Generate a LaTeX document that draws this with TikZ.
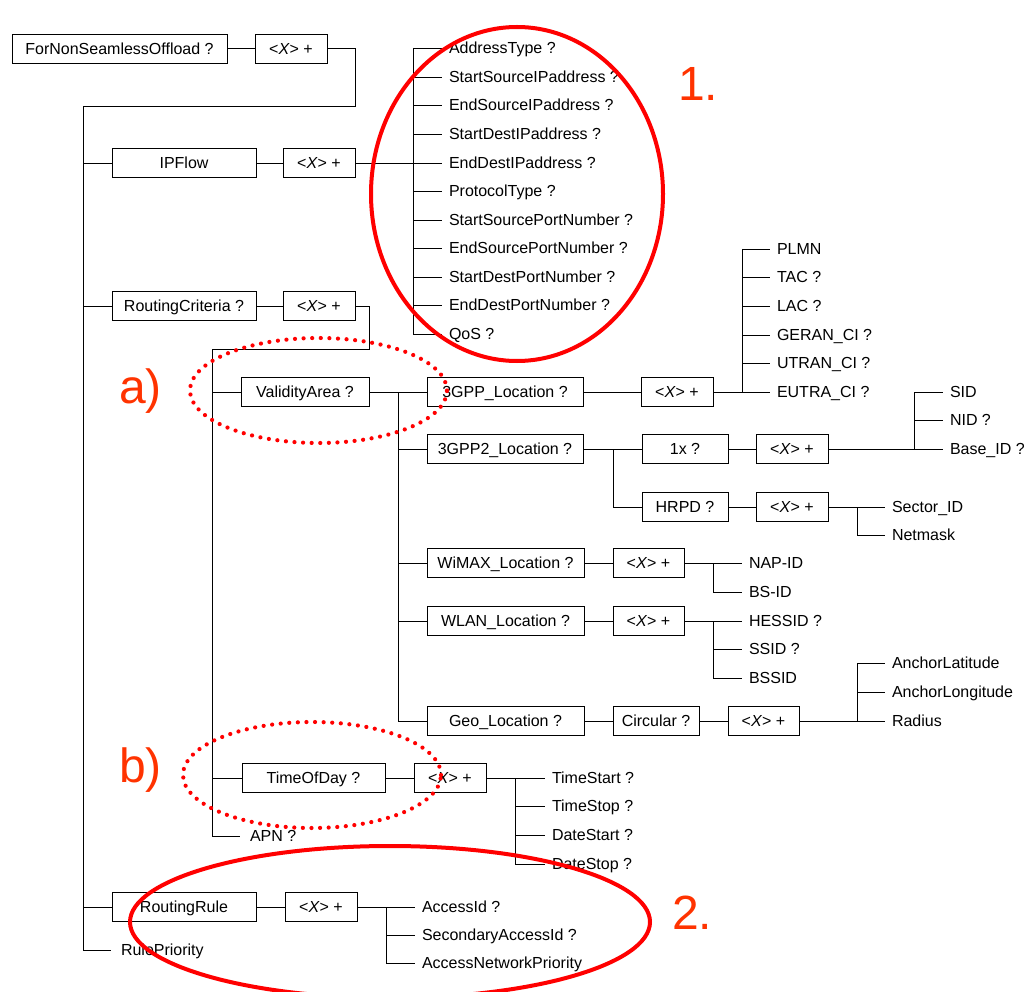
\documentclass[tikz,border=0pt]{standalone}
\usepackage{fontspec}
\setmainfont{Liberation Sans}
\newcommand\dfont{\fontsize{16}{19}\selectfont}
\newcommand\bigfont{\fontsize{48}{56}\selectfont}
\newcommand\rep{<\textit{X}> +}
\definecolor{markred}{RGB}{255,0,0}
\definecolor{labelred}{RGB}{255,51,0}
\begin{document}
\begin{tikzpicture}[x=1pt,y=-1pt,
  box/.style={draw, line width=0.8pt, inner sep=0pt, minimum height=29pt,
    text height=11.4pt, text depth=0pt, font=\dfont},
  leaf/.style={anchor=west, inner sep=0pt, outer xsep=7pt, outer ysep=0pt,
    text height=11.4pt, text depth=0pt, font=\dfont},
  wideleaf/.style={leaf, outer xsep=10pt},
  wire/.style={line width=0.8pt},
  ring/.style={draw=markred, line width=4pt},
  dotring/.style={draw=markred, line width=4.2pt, line cap=round, dash pattern=on 0pt off 8.6pt},
  tag/.style={anchor=base west, inner sep=0pt, font=\bigfont, text=labelred}]

\useasboundingbox (0,0) rectangle (1028,992);
\fill[white] (0,0) rectangle (1028,992);

% ---- boxes ----
\node[box, minimum width=215pt] (fnso) at (119.5,48.5) {ForNonSeamlessOffload ?};
\node[box, minimum width=72pt] (x0) at (291,48.5) {\rep};
\node[box, minimum width=144pt] (ipflow) at (184,163) {IPFlow};
\node[box, minimum width=72pt] (x1) at (319,163) {\rep};
\node[box, minimum width=144pt] (rc) at (184,306) {RoutingCriteria ?};
\node[box, minimum width=72pt] (x2) at (319,306) {\rep};
\node[box, minimum width=128pt] (va) at (305,392) {ValidityArea ?};
\node[box, minimum width=156pt] (g3) at (505,392) {3GPP\_Location ?};
\node[box, minimum width=72pt] (x3) at (677,392) {\rep};
\node[box, minimum width=156pt] (g32) at (505,449) {3GPP2\_Location ?};
\node[box, minimum width=86pt] (onex) at (685,449) {1x ?};
\node[box, minimum width=72pt] (x4) at (792,449) {\rep};
\node[box, minimum width=86pt] (hrpd) at (685,507) {HRPD ?};
\node[box, minimum width=72pt] (x5) at (792,507) {\rep};
\node[box, minimum width=157pt] (wimax) at (505.5,563) {WiMAX\_Location ?};
\node[box, minimum width=71pt] (x6) at (648.5,563) {\rep};
\node[box, minimum width=157pt] (wlan) at (505.5,621) {WLAN\_Location ?};
\node[box, minimum width=71pt] (x7) at (648.5,621) {\rep};
\node[box, minimum width=157pt] (geo) at (505.5,721) {Geo\_Location ?};
\node[box, minimum width=86pt] (circ) at (656,721) {Circular ?};
\node[box, minimum width=71pt] (x8) at (763.5,721) {\rep};
\node[box, minimum width=143pt] (tod) at (313.5,778) {TimeOfDay ?};
\node[box, minimum width=72pt] (x9) at (450,778) {\rep};
\node[box, minimum width=144pt] (rr) at (184,907) {RoutingRule};
\node[box, minimum width=72pt] (x10) at (321,907) {\rep};

% ---- leaves ----
\node[leaf] (ip1) at (442,48) {AddressType ?};
\node[leaf] (ip2) at (442,77) {StartSourceIPaddress ?};
\node[leaf] (ip3) at (442,105) {EndSourceIPaddress ?};
\node[leaf] (ip4) at (442,134) {StartDestIPaddress ?};
\node[leaf] (ip5) at (442,163) {EndDestIPaddress ?};
\node[leaf] (ip6) at (442,191) {ProtocolType ?};
\node[leaf] (ip7) at (442,220) {StartSourcePortNumber ?};
\node[leaf] (ip8) at (442,248) {EndSourcePortNumber ?};
\node[leaf] (ip9) at (442,277) {StartDestPortNumber ?};
\node[leaf] (ip10) at (442,305) {EndDestPortNumber ?};
\node[leaf] (ip11) at (442,334) {QoS ?};

\node[leaf] (plmn) at (770,249) {PLMN};
\node[leaf] (tac) at (770,277) {TAC ?};
\node[leaf] (lac) at (770,306) {LAC ?};
\node[leaf] (geran) at (770,335) {GERAN\_CI ?};
\node[leaf] (utran) at (770,363) {UTRAN\_CI ?};
\node[leaf] (eutra) at (770,392) {EUTRA\_CI ?};

\node[leaf] (sid) at (943,392) {SID};
\node[leaf] (nid) at (943,420) {NID ?};
\node[leaf] (base) at (943,449) {Base\_ID ?};

\node[leaf] (sector) at (885,507) {Sector\_ID};
\node[leaf] (netmask) at (885,535) {Netmask};

\node[leaf] (napid) at (742,563) {NAP-ID};
\node[leaf] (bsid) at (742,592) {BS-ID};

\node[leaf] (hessid) at (742,621) {HESSID ?};
\node[leaf] (ssid) at (742,649) {SSID ?};
\node[leaf] (bssid) at (742,678) {BSSID};

\node[leaf] (alat) at (885,663) {AnchorLatitude};
\node[leaf] (alon) at (885,692) {AnchorLongitude};
\node[leaf] (radius) at (885,721) {Radius};

\node[leaf] (tstart) at (545,778) {TimeStart ?};
\node[leaf] (tstop) at (545,806) {TimeStop ?};
\node[leaf] (dstart) at (545,835) {DateStart ?};
\node[leaf] (dstop) at (545,864) {DateStop ?};

\node[wideleaf] (apn) at (240,836) {APN ?};

\node[leaf] (acc) at (415,907) {AccessId ?};
\node[leaf] (sacc) at (415,935) {SecondaryAccessId ?};
\node[leaf] (anp) at (415,963) {AccessNetworkPriority};

\node[wideleaf] (rp) at (111,950) {RulePriority};

% ---- trunk positions ----
\coordinate (k1) at (355,106);
\coordinate (tA) at (83,106);
\coordinate (tB) at (413,0);
\coordinate (k2) at (369,349);
\coordinate (tC) at (212,349);
\coordinate (tD) at (398,0);
\coordinate (tE) at (742,0);
\coordinate (tF) at (613,0);
\coordinate (tG) at (914,0);
\coordinate (tH) at (857,0);
\coordinate (tI) at (713,0);
\coordinate (tJ) at (515,0);
\coordinate (tK) at (386,0);

% ---- connectors ----
\draw[wire] (fnso) -- (x0);
\draw[wire] (x0.east) -| (k1) -- (tA) -- (tA |- rp.west) -- (rp.west);
\foreach \n in {ipflow,rc,rr} \draw[wire] (tA |- \n.west) -- (\n.west);

\draw[wire] (ipflow) -- (x1);
\draw[wire] (x1.east) -- (ip5.west);
\draw[wire] (tB |- ip1.west) -- (tB |- ip11.west);
\foreach \i in {1,...,11} \draw[wire] (tB |- ip\i.west) -- (ip\i.west);

\draw[wire] (rc) -- (x2);
\draw[wire] (x2.east) -| (k2) -- (tC) -- (tC |- apn.west) -- (apn.west);
\foreach \n in {va,tod} \draw[wire] (tC |- \n.west) -- (\n.west);

\draw[wire] (va) -- (g3);
\draw[wire] (tD |- g3.west) -- (tD |- geo.west);
\foreach \n in {g32,wimax,wlan,geo} \draw[wire] (tD |- \n.west) -- (\n.west);

\draw[wire] (g3) -- (x3);
\draw[wire] (x3.east) -- (eutra.west);
\draw[wire] (tE |- plmn.west) -- (tE |- eutra.west);
\foreach \n in {plmn,tac,lac,geran,utran} \draw[wire] (tE |- \n.west) -- (\n.west);

\draw[wire] (g32) -- (onex);
\draw[wire] (tF |- g32.east) |- (hrpd.west);
\draw[wire] (onex) -- (x4);
\draw[wire] (x4.east) -- (base.west);
\draw[wire] (tG |- sid.west) -- (tG |- base.west);
\foreach \n in {sid,nid} \draw[wire] (tG |- \n.west) -- (\n.west);

\draw[wire] (hrpd) -- (x5);
\draw[wire] (x5.east) -- (sector.west);
\draw[wire] (tH |- sector.west) |- (netmask.west);

\draw[wire] (wimax) -- (x6);
\draw[wire] (x6.east) -- (napid.west);
\draw[wire] (tI |- napid.west) |- (bsid.west);

\draw[wire] (wlan) -- (x7);
\draw[wire] (x7.east) -- (hessid.west);
\draw[wire] (tI |- hessid.west) -- (tI |- bssid.west);
\foreach \n in {ssid,bssid} \draw[wire] (tI |- \n.west) -- (\n.west);

\draw[wire] (geo) -- (circ);
\draw[wire] (circ) -- (x8);
\draw[wire] (x8.east) -- (radius.west);
\draw[wire] (tH |- alat.west) -- (tH |- radius.west);
\foreach \n in {alat,alon} \draw[wire] (tH |- \n.west) -- (\n.west);

\draw[wire] (tod) -- (x9);
\draw[wire] (x9.east) -- (tstart.west);
\draw[wire] (tJ |- tstart.west) -- (tJ |- dstop.west);
\foreach \n in {tstop,dstart,dstop} \draw[wire] (tJ |- \n.west) -- (\n.west);

\draw[wire] (rr) -- (x10);
\draw[wire] (x10.east) -- (acc.west);
\draw[wire] (tK |- acc.west) -- (tK |- anp.west);
\foreach \n in {sacc,anp} \draw[wire] (tK |- \n.west) -- (\n.west);

% ---- highlight marks ----
\draw[ring] (517,194) ellipse [x radius=146pt, y radius=167pt];
\draw[ring] (390,922) ellipse [x radius=260pt, y radius=76pt];
\draw[dotring] (318.5,390.5) ellipse [x radius=128.5pt, y radius=52.5pt];
\draw[dotring] (312,775) ellipse [x radius=129pt, y radius=53pt];

\node[tag] (lab1) at (678,101) {1.};
\node[tag] (lab2) at (672,929) {2.};
\node[tag] (laba) at (119,403) {a)};
\node[tag] (labb) at (119,782) {b)};
\end{tikzpicture}
\end{document}
